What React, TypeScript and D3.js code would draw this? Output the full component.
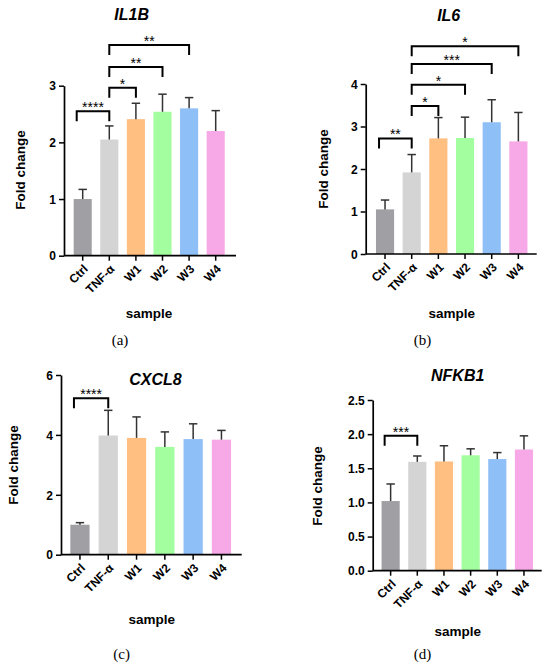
import { useEffect, useRef } from 'react';
import * as d3 from 'd3';

// sample groups, shared by all four panels
const categories = ['Ctrl', 'TNF-α', 'W1', 'W2', 'W3', 'W4'];
const barColors = ['#a0a0a4', '#d4d4d4', '#ffbf80', '#a2fe9e', '#8fbff7', '#f6a9e6'];

// means and upper SD
const il1bMean = [1.0, 2.05, 2.41, 2.54, 2.6, 2.2];
const il1bSd = [0.17, 0.24, 0.28, 0.31, 0.19, 0.36];
const il6Mean = [1.05, 1.92, 2.72, 2.73, 3.1, 2.65];
const il6Sd = [0.22, 0.42, 0.49, 0.49, 0.53, 0.68];
const cxcl8Mean = [1.0, 3.98, 3.9, 3.6, 3.86, 3.84];
const cxcl8Sd = [0.07, 0.84, 0.7, 0.5, 0.51, 0.31];
const nfkb1Mean = [1.02, 1.594, 1.6, 1.69, 1.635, 1.775];
const nfkb1Sd = [0.25, 0.086, 0.23, 0.095, 0.095, 0.2];

// significance brackets: [from, to, height in data units, label]
type Bracket = [number, number, number, string];
const il1bBrackets: Bracket[] = [
  [0, 1, 2.55, '****'],
  [1, 2, 2.965, '*'],
  [1, 3, 3.33, '**'],
  [1, 4, 3.72, '**'],
];
const il6Brackets: Bracket[] = [
  [0, 1, 2.72, '**'],
  [1, 2, 3.48, '*'],
  [1, 3, 3.98, '*'],
  [1, 4, 4.47, '***'],
  [1, 5, 4.89, '*'],
];
const cxcl8Brackets: Bracket[] = [[0, 1, 5.22, '****']];
const nfkb1Brackets: Bracket[] = [[0, 1, 1.977, '***']];

const il1bTicks = [0, 1, 2, 3];
const il6Ticks = [0, 1, 2, 3, 4];
const cxcl8Ticks = [0, 2, 4, 6];
const nfkb1Ticks = [0, 0.5, 1.0, 1.5, 2.0, 2.5];

interface PanelSpec {
  title: string;
  letter: string;
  mean: number[];
  sd: number[];
  brackets: Bracket[];
  ticks: number[];
  tickFmt: (v: number) => string;
  // layout in page pixels
  axisX: [number, number];
  band: [number, number];
  axisY: [number, number];
  titlePos: [number, number];
  yLabelPos: [number, number];
  xLabelPos: [number, number];
  letterPos: [number, number];
}

const intFmt = (v: number) => d3.format('d')(v);
const decFmt = (v: number) => d3.format('.1f')(v);

const panels: PanelSpec[] = [
  {
    title: 'IL1B', letter: '(a)', mean: il1bMean, sd: il1bSd, brackets: il1bBrackets,
    ticks: il1bTicks, tickFmt: intFmt,
    axisX: [64, 236], band: [69.4, 229], axisY: [255.7, 85.7],
    titlePos: [131.7, 20], yLabelPos: [25, 170], xLabelPos: [149, 318], letterPos: [120, 345],
  },
  {
    title: 'IL6', letter: '(b)', mean: il6Mean, sd: il6Sd, brackets: il6Brackets,
    ticks: il6Ticks, tickFmt: intFmt,
    axisX: [365.7, 536.7], band: [371.7, 531.7], axisY: [254, 84],
    titlePos: [448.7, 21], yLabelPos: [327.5, 169], xLabelPos: [451.7, 318], letterPos: [422.5, 345],
  },
  {
    title: 'CXCL8', letter: '(c)', mean: cxcl8Mean, sd: cxcl8Sd, brackets: cxcl8Brackets,
    ticks: cxcl8Ticks, tickFmt: intFmt,
    axisX: [61, 241.7], band: [65.8, 235.6], axisY: [554.7, 375],
    titlePos: [155.5, 384.7], yLabelPos: [18.3, 465], xLabelPos: [151.7, 624], letterPos: [121.7, 659],
  },
  {
    title: 'NFKB1', letter: '(d)', mean: nfkb1Mean, sd: nfkb1Sd, brackets: nfkb1Brackets,
    ticks: nfkb1Ticks, tickFmt: decFmt,
    axisX: [372.7, 541.7], band: [377.3, 537.3], axisY: [570.7, 400],
    titlePos: [457.7, 380.7], yLabelPos: [322.3, 486], xLabelPos: [457.7, 636], letterPos: [422.5, 659],
  },
];

const SANS = '"Liberation Sans", Arial, sans-serif';
const SERIF = '"Liberation Serif", "Times New Roman", serif';

function drawPanel(root: d3.Selection<SVGSVGElement, unknown, null, undefined>, p: PanelSpec) {
  const g = root.append('g');
  const yMax = p.ticks[p.ticks.length - 1];

  const x = d3.scaleBand<string>()
    .domain(categories)
    .range(p.band)
    .paddingInner(0.32)
    .paddingOuter(0.16);
  const y = d3.scaleLinear().domain([0, yMax]).range(p.axisY);
  const cx = (i: number) => (x(categories[i]) as number) + x.bandwidth() / 2;

  // bars
  g.selectAll('.bar')
    .data(p.mean)
    .enter()
    .append('rect')
    .attr('x', (_, i) => x(categories[i]) as number)
    .attr('y', d => y(d))
    .attr('width', x.bandwidth())
    .attr('height', d => y(0) - y(d))
    .attr('fill', (_, i) => barColors[i]);

  // upper error bars
  const err = g.selectAll('.err')
    .data(p.mean)
    .enter()
    .append('g')
    .attr('stroke', '#333')
    .attr('stroke-width', 1.5);
  err.append('line')
    .attr('x1', (_, i) => cx(i))
    .attr('x2', (_, i) => cx(i))
    .attr('y1', d => y(d))
    .attr('y2', (d, i) => y(d + p.sd[i]));
  err.append('line')
    .attr('x1', (_, i) => cx(i) - 4.2)
    .attr('x2', (_, i) => cx(i) + 4.2)
    .attr('y1', (d, i) => y(d + p.sd[i]))
    .attr('y2', (d, i) => y(d + p.sd[i]));

  // axes
  const yAxis = g.append('g')
    .attr('transform', `translate(${p.axisX[0]},0)`)
    .call(d3.axisLeft(y).tickValues(p.ticks).tickFormat(v => p.tickFmt(v as number)).tickSize(5).tickSizeOuter(0));
  const xAxis = g.append('g')
    .attr('transform', `translate(0,${p.axisY[0]})`)
    .call(d3.axisBottom(x).tickSize(5).tickSizeOuter(0));
  xAxis.select('.domain').attr('d', `M${p.axisX[0]},0H${p.axisX[1]}`);

  [yAxis, xAxis].forEach(a => {
    a.select('.domain').attr('stroke', '#000').attr('stroke-width', 1.7);
    a.selectAll('.tick line').attr('stroke', '#000').attr('stroke-width', 1.5);
    a.selectAll('.tick text')
      .attr('fill', '#000')
      .style('font-family', SANS)
      .style('font-weight', 'bold')
      .style('font-size', '12px');
  });
  yAxis.selectAll('.tick text').attr('x', -8).attr('dy', '0.35em');
  xAxis.selectAll('.tick text')
    .attr('text-anchor', 'end')
    .attr('y', 0)
    .attr('dy', 0)
    .attr('transform', 'translate(6,14) rotate(-45)');

  // significance brackets
  p.brackets.forEach(([a, b, h, label]) => {
    const x1 = cx(a) - (a === 0 ? 6 : 0);
    const x2 = cx(b);
    const yb = y(h);
    g.append('path')
      .attr('d', `M${x1},${yb + 10}V${yb}H${x2}V${yb + 10}`)
      .attr('fill', 'none')
      .attr('stroke', '#000')
      .attr('stroke-width', 2);
    g.append('text')
      .attr('x', (x1 + x2) / 2)
      .attr('y', yb + 1)
      .attr('text-anchor', 'middle')
      .style('font-family', SANS)
      .style('font-size', '14px')
      .text(label);
  });

  // labels
  g.append('text')
    .attr('x', p.titlePos[0])
    .attr('y', p.titlePos[1])
    .attr('text-anchor', 'middle')
    .style('font-family', SANS)
    .style('font-weight', 'bold')
    .style('font-style', 'italic')
    .style('font-size', '16px')
    .text(p.title);
  g.append('text')
    .attr('transform', `translate(${p.yLabelPos[0]},${p.yLabelPos[1]}) rotate(-90)`)
    .attr('text-anchor', 'middle')
    .style('font-family', SANS)
    .style('font-weight', 'bold')
    .style('font-size', '13.5px')
    .text('Fold change');
  g.append('text')
    .attr('x', p.xLabelPos[0])
    .attr('y', p.xLabelPos[1])
    .attr('text-anchor', 'middle')
    .style('font-family', SANS)
    .style('font-weight', 'bold')
    .style('font-size', '13.5px')
    .text('sample');
  g.append('text')
    .attr('x', p.letterPos[0])
    .attr('y', p.letterPos[1])
    .attr('text-anchor', 'middle')
    .style('font-family', SERIF)
    .style('font-size', '15px')
    .text(p.letter);
}

export default function App() {
  const svgRef = useRef<SVGSVGElement>(null);

  useEffect(() => {
    if (!svgRef.current) return;
    const svg = d3.select(svgRef.current);
    svg.selectAll('*').remove();
    svg.append('rect').attr('width', 550).attr('height', 668).attr('fill', '#fff');
    panels.forEach(p => drawPanel(svg, p));
  }, []);

  return (
    <svg
      ref={svgRef}
      width={550}
      height={668}
      style={{ position: 'absolute', left: 0, top: 0, display: 'block' }}
    />
  );
}
